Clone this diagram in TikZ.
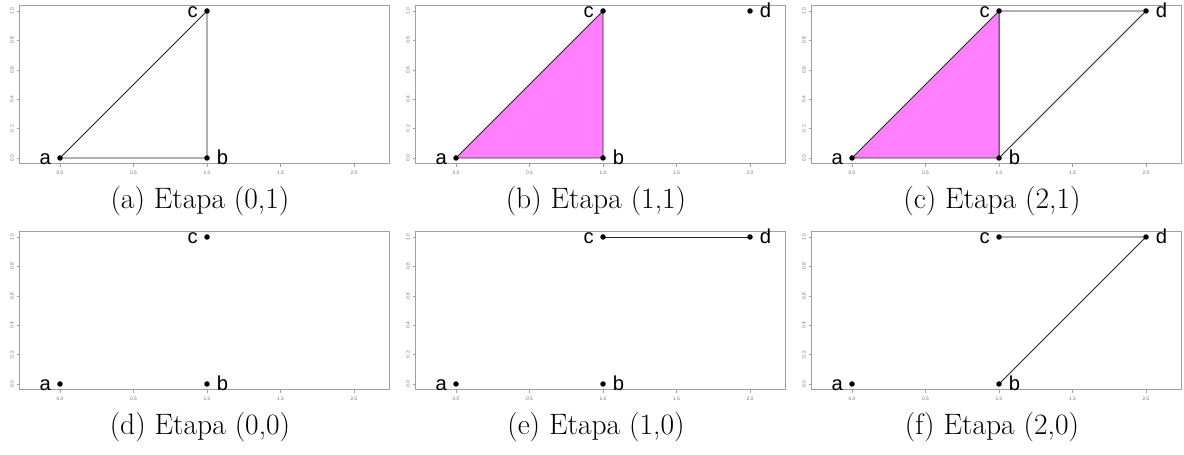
\documentclass[tikz,border=0pt]{standalone}
\usepackage{fontspec}
\newfontfamily\plotfont{Liberation Sans}
\definecolor{framegray}{HTML}{A0A0A0}
\definecolor{triviolet}{HTML}{FF80FF}
\tikzset{
  vtx/.style={circle, fill=black, inner sep=0pt, minimum size=0.11cm},
  lbl/.style={font=\plotfont\fontsize{11.5}{12}\selectfont, inner sep=0pt},
  edge/.style={line width=0.55pt, black!85},
  ticklbl/.style={font=\plotfont\fontsize{2.8}{3}\selectfont, text=black!55, inner sep=0pt},
  subcap/.style={font=\fontsize{16.8}{19}\selectfont, inner sep=0pt},
  panel/.style={x=2.94cm, y=2.94cm}
}
% frame, ticks and tick labels of one plot
\newcommand{\plotframe}{%
  \draw[framegray, line width=0.5pt] (-0.276,-0.04) rectangle (2.24,1.04);
  \foreach \t/\s [count=\i] in {0/0.0,0.5/0.5,1/1.0,1.5/1.5,2/2.0} {
    \draw[framegray, line width=0.3pt] (\t,-0.04) -- (\t,-0.058);
    \node[ticklbl] (xl\i) at (\t,-0.1) {\s};
  }
  \foreach \t/\s [count=\i] in {0/0.0,0.2/0.2,0.4/0.4,0.6/0.6,0.8/0.8,1/1.0} {
    \draw[framegray, line width=0.3pt] (-0.276,\t) -- (-0.294,\t);
    \node[ticklbl, rotate=90] (yl\i) at (-0.327,\t) {\s};
  }
  \coordinate (pa) at (0,0);
  \coordinate (pb) at (1,0);
  \coordinate (pc) at (1,1);
  \coordinate (pd) at (2,1);
}
% dot and letter at one point
\newcommand{\vertexleft}[1]{%
  \node[vtx] (#1) at (p#1) {};
  \node[lbl, anchor=base east] (l#1) at ([shift={(-0.06,-0.041)}]p#1) {#1};}
\newcommand{\vertexright}[1]{%
  \node[vtx] (#1) at (p#1) {};
  \node[lbl, anchor=base west] (l#1) at ([shift={(0.064,-0.041)}]p#1) {#1};}

\begin{document}
\begin{tikzpicture}
  \useasboundingbox (0,0) rectangle (23.68,9.1);

  % top row
  \begin{scope}[shift={(1.2cm,5.94cm)}, panel]
    \plotframe
    \draw[edge] (pa) -- (pb) -- (pc) -- cycle;
    \vertexleft{a} \vertexright{b} \vertexleft{c}
    \node[subcap] (capa) at (0.952,-0.2925) {(a) Etapa (0,1)};
  \end{scope}

  \begin{scope}[shift={(9.12cm,5.94cm)}, panel]
    \plotframe
    \draw[edge, fill=triviolet] (pa) -- (pb) -- (pc) -- cycle;
    \vertexleft{a} \vertexright{b} \vertexleft{c} \vertexright{d}
    \node[subcap] (capb) at (0.952,-0.2925) {(b) Etapa (1,1)};
  \end{scope}

  \begin{scope}[shift={(17.04cm,5.94cm)}, panel]
    \plotframe
    \draw[edge, fill=triviolet] (pa) -- (pb) -- (pc) -- cycle;
    \draw[edge] (pc) -- (pd) -- (pb);
    \vertexleft{a} \vertexright{b} \vertexleft{c} \vertexright{d}
    \node[subcap] (capc) at (0.952,-0.2925) {(c) Etapa (2,1)};
  \end{scope}

  % bottom row
  \begin{scope}[shift={(1.2cm,1.42cm)}, panel]
    \plotframe
    \vertexleft{a} \vertexright{b} \vertexleft{c}
    \node[subcap] (capd) at (0.952,-0.2925) {(d) Etapa (0,0)};
  \end{scope}

  \begin{scope}[shift={(9.12cm,1.42cm)}, panel]
    \plotframe
    \draw[edge] (pc) -- (pd);
    \vertexleft{a} \vertexright{b} \vertexleft{c} \vertexright{d}
    \node[subcap] (cape) at (0.952,-0.2925) {(e) Etapa (1,0)};
  \end{scope}

  \begin{scope}[shift={(17.04cm,1.42cm)}, panel]
    \plotframe
    \draw[edge] (pc) -- (pd) -- (pb);
    \vertexleft{a} \vertexright{b} \vertexleft{c} \vertexright{d}
    \node[subcap] (capf) at (0.952,-0.2925) {(f) Etapa (2,0)};
  \end{scope}
\end{tikzpicture}
\end{document}
